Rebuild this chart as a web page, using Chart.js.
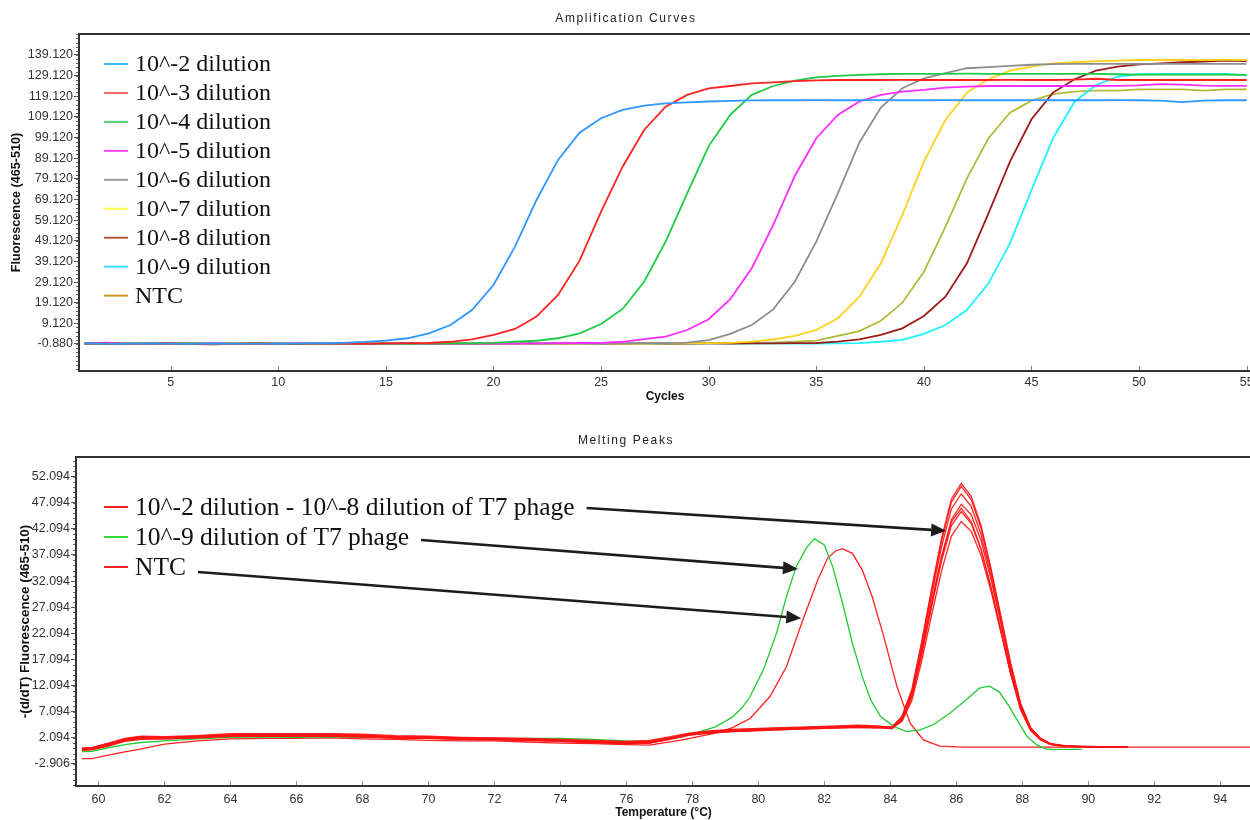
<!DOCTYPE html>
<html>
<head>
<meta charset="utf-8">
<title>Amplification Curves / Melting Peaks</title>
<script src="https://cdn.jsdelivr.net/npm/chart.js@4.4.1/dist/chart.umd.min.js"></script>
<style>
  html, body { margin: 0; padding: 0; background: #fff; }
  body { width: 1250px; height: 820px; overflow: hidden; position: relative; }
  .panel { position: absolute; left: 0; width: 1262px; height: 410px; }
  #ampPanel { top: 0; }
  #meltPanel { top: 410px; }
</style>
</head>
<body>
<div class="panel" id="ampPanel"><canvas id="ampChart" width="1262" height="410"></canvas></div>
<div class="panel" id="meltPanel"><canvas id="meltChart" width="1262" height="410"></canvas></div>
<script>
// ---------- Amplification curves data ----------
const ampCycles = [1, 2, 3, 4, 5, 6, 7, 8, 9, 10, 11, 12, 13, 14, 15, 16, 17, 18, 19, 20,
  21, 22, 23, 24, 25, 26, 27, 28, 29, 30, 31, 32, 33, 34, 35, 36, 37, 38, 39, 40,
  41, 42, 43, 44, 45, 46, 47, 48, 49, 50, 51, 52, 53, 54, 55];
const ampLabels = ['10^-2 dilution', '10^-3 dilution', '10^-4 dilution', '10^-5 dilution',
  '10^-6 dilution', '10^-7 dilution', '10^-8 dilution', '10^-9 dilution', 'NTC'];

const ampD2 = [-0.6, -0.7, -0.8, -0.6, -0.7, -0.8, -0.6, -0.7, -0.7, -0.8, -0.6, -0.5,
  -0.3, 0.1, 0.8, 1.9, 4.3, 8.3, 15.6, 27.7, 46.3, 68.9,
  88.3, 101.5, 108.5, 112.5, 114.6, 115.7, 116.2, 116.6, 116.9, 117.1,
  117.2, 117.2, 117.3, 117.2, 117.2, 117.3, 117.2, 117.2, 117.3, 117.2,
  117.2, 117.2, 117.3, 117.2, 117.2, 117.2, 117.3, 117.2, 117.0, 116.3,
  117.0, 117.2, 117.2];
const ampD3 = [-0.7, -0.6, -0.8, -0.7, -0.6, -0.8, -0.7, -0.7, -0.6, -0.8,
  -0.7, -0.6, -0.7, -0.8, -0.6, -0.5, -0.4, 0.2, 1.4, 3.5,
  6.4, 12.4, 22.9, 39.5, 63.2, 85.0, 102.8, 114.1, 119.8, 123.0,
  124.1, 125.4, 125.9, 126.5, 126.8, 127.0, 127.0, 127.0, 127.1, 127.0,
  127.0, 127.0, 127.0, 127.1, 127.0, 127.0, 127.2, 127.6, 127.0, 127.0,
  127.0, 127.0, 127.0, 127.0, 127.0];
const ampD4 = [-0.7, -0.8, -0.6, -0.7, -0.7, -0.6, -0.8, -0.7, -0.6, -0.7,
  -0.8, -0.6, -0.7, -0.7, -0.6, -0.8, -0.7, -0.6, -0.5, -0.3,
  0.2, 0.7, 1.9, 4.3, 8.8, 16.1, 29.3, 48.7, 72.1, 95.0,
  110.1, 119.8, 124.1, 126.7, 128.3, 129.0, 129.5, 129.8, 130.0, 130.0,
  130.0, 130.1, 130.0, 130.0, 130.0, 130.0, 130.0, 130.0, 129.8, 129.6,
  129.6, 129.6, 129.6, 129.6, 129.5];
const ampD5 = [-0.6, -0.2, -0.6, -0.8, -0.7, -0.7, -0.6, -0.8, -0.7, -0.7,
  -0.6, -0.8, -0.7, -0.7, -0.6, -0.7, -0.8, -0.7, -0.6, -0.7,
  -0.7, -0.6, -0.5, -0.4, -0.3, 0.2, 1.5, 2.7, 5.9, 11.1,
  20.8, 35.8, 56.8, 80.5, 98.8, 110.1, 116.6, 119.8, 121.4, 122.2,
  123.3, 123.8, 124.1, 124.1, 124.1, 124.1, 124.1, 124.2, 124.2, 124.4,
  125.0, 124.8, 124.3, 124.2, 124.2];
const ampD6 = [-0.7, -0.7, -0.6, -0.8, -0.7, -0.6, -0.7, -0.8, -0.6, -0.7,
  -0.7, -0.6, -0.7, -0.8, -0.6, -0.7, -0.7, -0.6, -0.8, -0.7,
  -0.6, -0.7, -0.7, -0.6, -0.7, -0.6, -0.5, -0.4, -0.2, 1.0,
  4.0, 8.3, 15.9, 29.3, 48.7, 72.1, 96.6, 113.7, 123.0, 127.8,
  130.3, 132.7, 133.2, 133.8, 134.4, 134.7, 134.8, 134.8, 134.8, 134.8,
  134.8, 134.8, 134.8, 134.8, 134.8];
const ampD7 = [-0.7, -0.6, -0.7, -0.7, -0.8, -0.6, -0.7, -0.6, -0.7, -0.8,
  -0.6, -0.7, -0.7, -0.6, -0.7, -0.8, -0.7, -0.6, -0.7, -0.7,
  -0.6, -0.7, -0.8, -0.7, -0.6, -0.7, -0.7, -0.6, -0.6, -0.5,
  -0.3, 0.3, 1.3, 3.0, 5.9, 11.6, 22.0, 38.2, 61.6, 87.5,
  107.6, 120.9, 127.4, 131.5, 133.5, 135.1, 135.6, 136.1, 136.4, 136.7,
  136.7, 136.7, 136.7, 136.8, 136.7];
const ampD8 = [-0.7, -0.7, -0.8, -0.6, -0.7, -0.9, -1.0, -0.8, -0.7, -0.7,
  -0.8, -0.7, -0.6, -0.7, -0.7, -0.6, -0.7, -0.7, -0.8, -0.7,
  -0.6, -0.7, -0.7, -0.6, -0.7, -0.7, -0.6, -0.7, -0.7, -0.6,
  -0.7, -0.6, -0.6, -0.5, -0.4, 0.3, 1.4, 3.5, 6.7, 12.7,
  22.0, 38.2, 62.4, 87.5, 108.0, 120.9, 127.4, 131.5, 133.5, 134.6,
  135.1, 135.6, 135.9, 136.4, 136.2];
const ampD9 = [-0.7, -0.6, -0.7, -0.5, -0.6, -0.7, -0.6, -0.7, -0.7, -0.6,
  -0.7, -0.7, -0.6, -0.7, -0.7, -0.6, -0.7, -0.7, -0.6, -0.7,
  -0.7, -0.6, -0.7, -0.7, -0.7, -0.6, -0.7, -0.7, -0.7, -0.6,
  -0.7, -0.7, -0.6, -0.7, -0.7, -0.6, -0.5, 0.2, 1.1, 4.0,
  8.3, 15.6, 28.5, 47.9, 73.7, 98.8, 116.5, 124.6, 128.6, 129.8,
  130.0, 130.0, 130.0, 130.0, 129.2];
const ampNtc = [-0.6, -0.7, -0.7, -0.6, -0.7, -0.7, -0.6, -0.7, -0.6, -0.7,
  -0.6, -0.7, -0.5, -0.6, -0.7, -0.6, -0.7, -0.6, -0.7, -0.6,
  -0.7, -0.7, -0.6, -0.7, -0.6, -0.7, -0.6, -0.7, -0.6, -0.6,
  -0.5, -0.4, -0.2, 0.2, 0.8, 3.0, 5.4, 10.4, 19.1, 34.1,
  55.9, 79.4, 98.8, 111.2, 117.0, 120.2, 121.4, 121.9, 121.9, 122.5,
  122.5, 122.5, 121.9, 122.5, 122.5];

const ampYTicks = [-0.88, 9.12, 19.12, 29.12, 39.12, 49.12, 59.12, 69.12, 79.12,
  89.12, 99.12, 109.12, 119.12, 129.12, 139.12];
const ampXTicks = [5, 10, 15, 20, 25, 30, 35, 40, 45, 50, 55];

// ---------- Melting peaks data ----------
const meltDilTemps = [59.5, 59.8, 60.3, 60.8, 61.3, 62, 63, 64, 65, 66, 67, 68, 69, 70, 71,
  72, 73, 74, 75, 76, 76.7, 77.3, 77.9, 78.5, 79.2, 80, 81, 82, 83, 83.6,
  84.05, 84.35, 84.65, 84.95, 85.25, 85.55, 85.85, 86.15, 86.45, 86.75, 87.05,
  87.35, 87.65, 87.95, 88.25, 88.55, 88.85, 89.3, 89.8, 90.4, 91.2];
const meltDil1 = [0.1, 0.2, 1.1, 2.0, 2.4, 2.3, 2.5, 2.9, 2.9, 2.9, 2.9, 2.8, 2.5, 2.4, 2.2,
  2.1, 2.0, 1.8, 1.6, 1.4, 1.6, 2.3, 3.0, 3.4, 3.7, 3.9, 4.1, 4.3, 4.5, 4.4,
  4.1, 6.2, 11.3, 20.5, 30.6, 40.2, 47.8, 50.8, 48.3, 42.7, 34.5,
  25.4, 16.3, 8.6, 4.1, 2.0, 1.0, 0.6, 0.5, 0.4, 0.4];
const meltDil2 = [-0.1, 0.0, 0.9, 1.8, 2.2, 2.2, 2.4, 2.7, 2.7, 2.7, 2.7, 2.6, 2.3, 2.3, 2.1,
  2.0, 1.9, 1.7, 1.5, 1.3, 1.4, 2.1, 2.9, 3.3, 3.6, 3.8, 4.0, 4.2, 4.4, 4.3,
  4.0, 6.1, 11.0, 20.1, 30.1, 39.7, 47.2, 50.2, 47.7, 42.2, 34.1,
  25.1, 16.1, 8.5, 4.0, 2.0, 1.0, 0.5, 0.4, 0.4, 0.3];
const meltDil3 = [0.0, 0.1, 0.8, 1.7, 2.1, 2.1, 2.3, 2.6, 2.6, 2.6, 2.6, 2.5, 2.2, 2.2, 2.0,
  1.9, 1.8, 1.6, 1.4, 1.2, 1.3, 2.0, 2.8, 3.2, 3.5, 3.7, 3.9, 4.1, 4.3, 4.2,
  4.2, 6.0, 10.7, 19.5, 29.3, 38.6, 45.9, 48.8, 46.4, 41.0, 33.2,
  24.4, 15.6, 8.3, 3.9, 1.9, 0.9, 0.5, 0.4, 0.3, 0.3];
const meltDil4 = [-0.2, -0.1, 0.6, 1.5, 2.0, 2.0, 2.2, 2.5, 2.5, 2.5, 2.5, 2.4, 2.1, 2.1, 1.9,
  1.8, 1.7, 1.5, 1.3, 1.1, 1.2, 1.9, 2.7, 3.1, 3.4, 3.6, 3.8, 4.0, 4.2, 4.1,
  3.9, 5.5, 9.8, 18.0, 27.5, 36.6, 43.8, 46.8, 44.8, 39.8, 32.4,
  24.0, 15.5, 8.3, 3.9, 2.0, 0.9, 0.5, 0.4, 0.4, 0.3];
const meltDil5 = [-0.1, 0.0, 0.7, 1.6, 1.9, 1.9, 2.1, 2.4, 2.4, 2.4, 2.4, 2.3, 2.0, 2.0, 1.8,
  1.7, 1.6, 1.4, 1.2, 1.0, 1.1, 1.8, 2.6, 3.0, 3.3, 3.5, 3.7, 3.9, 4.1, 4.0,
  4.1, 5.9, 10.5, 18.9, 28.1, 36.7, 43.4, 46.0, 43.5, 38.2, 30.8,
  22.5, 14.2, 7.4, 3.5, 1.7, 0.9, 0.5, 0.4, 0.3, 0.3];
const meltDil6 = [0.1, 0.2, 1.0, 1.9, 2.3, 2.2, 2.4, 2.7, 2.8, 2.8, 2.8, 2.6, 2.3, 2.2, 2.0,
  1.9, 1.8, 1.6, 1.3, 1.1, 1.2, 2.0, 2.8, 3.2, 3.5, 3.7, 3.9, 4.1, 4.3, 4.2,
  3.8, 5.6, 10.0, 18.2, 27.2, 35.9, 42.7, 45.4, 43.1, 38.1, 30.9,
  22.7, 14.5, 7.7, 3.6, 1.8, 0.9, 0.5, 0.4, 0.4, 0.3];
const meltDil7 = [-0.3, -0.2, 0.5, 1.4, 1.8, 1.9, 2.1, 2.4, 2.4, 2.4, 2.4, 2.3, 2.1, 2.0, 1.8,
  1.7, 1.6, 1.4, 1.2, 1.0, 1.1, 1.8, 2.6, 3.0, 3.3, 3.5, 3.7, 3.9, 4.1, 4.0,
  4.0, 5.2, 9.2, 16.8, 25.6, 34.0, 40.7, 43.5, 41.6, 37.0, 30.2,
  22.3, 14.3, 7.6, 3.6, 1.8, 0.8, 0.4, 0.4, 0.3, 0.3];

const meltGreenTemps = [59.5, 59.8, 60.3, 60.8, 61.3, 62, 63, 64, 65, 66, 67, 68, 69, 70, 71,
  72, 73, 74, 75, 76, 76.7, 77.7, 78.7, 79.2, 79.5, 79.75, 80.15, 80.55, 80.85, 81.15,
  81.45, 81.7, 82.0, 82.25, 82.55, 82.85, 83.15, 83.4, 83.7, 84.1, 84.5, 84.9, 85.3,
  85.8, 86.3, 86.7, 87.0, 87.3, 87.6, 87.9, 88.15, 88.45, 88.75, 89.3, 89.8];
const meltGreen = [-0.55, -0.5, 0.2, 0.8, 1.2, 1.5, 1.9, 2.2, 2.3, 2.2, 2.3, 2.2, 2.2, 2.1, 2.1,
  2.0, 2.0, 2.0, 1.8, 1.5, 1.4, 2.3, 4.2, 6.0, 7.8, 10.0, 15.1, 22.1, 29.1, 34.9,
  38.4, 40.2, 39.0, 34.9, 27.9, 20.2, 13.8, 9.4, 6.2, 4.3, 3.3, 3.6, 4.6,
  6.8, 9.4, 11.6, 12.0, 10.9, 8.1, 4.9, 2.3, 0.7, -0.1, -0.1, -0.1];

const meltNtcTemps = [59.5, 59.8, 60.3, 60.8, 61.3, 62, 63, 64, 65, 66, 67, 68, 69, 70, 71,
  72, 73, 74, 75, 76, 76.7, 77.7, 78.7, 79.2, 79.75, 80.35, 80.85, 81.35, 81.8, 82.1,
  82.35, 82.55, 82.85, 83.15, 83.45, 83.8, 84.2, 84.6, 85.0, 85.5, 86.2, 88, 90, 92, 95];
const meltNtc = [-1.9, -1.9, -1.2, -0.6, 0.0, 0.9, 1.5, 1.9, 2.0, 2.0, 2.1, 1.9, 1.8, 1.6, 1.5,
  1.5, 1.3, 1.1, 1.0, 0.8, 0.7, 1.7, 3.0, 4.0, 5.8, 10.0, 15.7, 24.7, 32.3, 36.5,
  37.9, 38.3, 37.4, 34.2, 29.1, 21.5, 11.9, 4.9, 1.7, 0.5, 0.3, 0.3, 0.3, 0.3, 0.3];

const meltYTicks = [-2.906, 2.094, 7.094, 12.094, 17.094, 22.094, 27.094, 32.094,
  37.094, 42.094, 47.094, 52.094];
const meltXTicks = [60, 62, 64, 66, 68, 70, 72, 74, 76, 78, 80, 82, 84, 86, 88, 90, 92, 94];
const meltLegendLabels = ['10^-2 dilution - 10^-8 dilution of T7 phage',
  '10^-9 dilution of T7 phage', 'NTC'];
// arrow tips, in (temperature, value)
const meltArrowTips = [[85.69, 41.7], [81.2, 34.4], [81.3, 25.0]];

document.addEventListener('DOMContentLoaded', function () {
  const sans = '"Liberation Sans", Arial, sans-serif';
  const serif = '"Liberation Serif", "Times New Roman", serif';

  const ampColors = ['#2f97ff', '#ff2222', '#1ecb45', '#ff2bff', '#8e8e8e', '#ffd11a', '#9c1b1b', '#1ff2ff', '#b4b93a'];
  const ampLegendColors = ['#3cbcff', '#ff6a6a', '#55cc77', '#ff44ff', '#9a9a9a', '#ffff44', '#b4583a', '#40dcff', '#c8961e'];
  const ampSeries = [ampD2, ampD3, ampD4, ampD5, ampD6, ampD7, ampD8, ampD9, ampNtc];

  function drawArrow(ctx, x0, y0, x1, y1) {
    const ang = Math.atan2(y1 - y0, x1 - x0);
    const head = 15, half = 6.5;
    const bx = x1 - head * Math.cos(ang), by = y1 - head * Math.sin(ang);
    ctx.beginPath(); ctx.moveTo(x0, y0); ctx.lineTo(bx, by); ctx.stroke();
    ctx.beginPath();
    ctx.moveTo(x1, y1);
    ctx.lineTo(bx + half * Math.sin(ang), by - half * Math.cos(ang));
    ctx.lineTo(bx - half * Math.sin(ang), by + half * Math.cos(ang));
    ctx.closePath(); ctx.fill();
  }

  // frame, minor ticks, title and hand-placed legend for one panel
  function makeDecor(cfg) {
    return {
      id: 'decor',
      afterDraw(chart) {
        const ctx = chart.ctx;
        const a = chart.chartArea;
        const xs = chart.scales.x, ys = chart.scales.y;
        ctx.save();

        // minor ticks on the y axis
        ctx.strokeStyle = '#666';
        ctx.lineWidth = 1;
        const first = ys.ticks[0].value;
        let v = first - Math.floor((first - ys.min) / cfg.minorStep) * cfg.minorStep;
        for (; v <= ys.max; v += cfg.minorStep) {
          const py = Math.round(ys.getPixelForValue(v)) + 0.5;
          ctx.beginPath(); ctx.moveTo(a.left - 3, py); ctx.lineTo(a.left, py); ctx.stroke();
        }
        // x ticks pointing into the plot
        ctx.strokeStyle = '#888';
        xs.ticks.forEach(t => {
          const px = Math.round(xs.getPixelForValue(t.value)) + 0.5;
          ctx.beginPath(); ctx.moveTo(px, a.bottom + 1); ctx.lineTo(px, a.bottom - 5); ctx.stroke();
        });

        // plot frame
        ctx.strokeStyle = '#333';
        ctx.lineWidth = 2;
        ctx.strokeRect(a.left, a.top, a.right - a.left, a.bottom - a.top);

        // panel title
        ctx.fillStyle = '#222';
        ctx.font = '12px ' + sans;
        ctx.letterSpacing = '1.6px';
        ctx.textAlign = 'center';
        ctx.textBaseline = 'middle';
        ctx.fillText(cfg.title, cfg.titleX, cfg.titleY);
        ctx.letterSpacing = '0px';

        // legend
        ctx.font = cfg.legendFont;
        ctx.textAlign = 'left';
        ctx.textBaseline = 'alphabetic';
        const ends = [];
        cfg.legendLabels.forEach((label, i) => {
          const ly = cfg.legendY + i * cfg.legendStep;
          ctx.strokeStyle = cfg.legendColors[i];
          ctx.lineWidth = 2;
          ctx.beginPath(); ctx.moveTo(104, ly); ctx.lineTo(128, ly); ctx.stroke();
          ctx.fillStyle = '#111';
          ctx.fillText(label, 135, ly + cfg.baselineShift);
          ends.push([135 + ctx.measureText(label).width, ly]);
        });

        // arrows from legend text to the curves
        if (cfg.arrowTips) {
          ctx.strokeStyle = '#1c1c1c';
          ctx.fillStyle = '#1c1c1c';
          ctx.lineWidth = 2.6;
          cfg.arrowTips.forEach((tip, i) => {
            const [ex, ey] = ends[i];
            drawArrow(ctx, ex + 12, ey + 1 + i * 2, xs.getPixelForValue(tip[0]), ys.getPixelForValue(tip[1]));
          });
        }
        ctx.restore();
      }
    };
  }

  const tickFont = { family: sans, size: 12.5 };
  const xTitleFont = { family: sans, size: 12, weight: 'bold' };

  // ---------- top panel ----------
  new Chart(document.getElementById('ampChart').getContext('2d'), {
    type: 'line',
    data: {
      datasets: ampSeries.map((s, i) => ({
        label: ampLabels[i],
        data: ampCycles.map((c, j) => ({ x: c, y: s[j] })),
        borderColor: ampColors[i],
        borderWidth: 1.8,
        pointRadius: 0,
        tension: 0,
        fill: false
      }))
    },
    options: {
      responsive: false,
      animation: false,
      layout: { padding: { top: 34, left: 0, right: 11, bottom: 0 } },
      plugins: { legend: { display: false }, tooltip: { enabled: false }, title: { display: false } },
      scales: {
        x: {
          type: 'linear', min: 0.74, max: 55.2,
          afterBuildTicks: s => { s.ticks = ampXTicks.map(v => ({ value: v })); },
          afterFit: s => { s.height = 39; },
          grid: { display: false, drawTicks: false },
          border: { display: false },
          ticks: { color: '#333', font: tickFont, padding: 4, autoSkip: false, maxRotation: 0 },
          title: { display: true, text: 'Cycles', color: '#111', font: xTitleFont, padding: { top: 0, bottom: 6 } }
        },
        y: {
          type: 'linear', min: -13.96, max: 149.29,
          afterBuildTicks: s => { s.ticks = ampYTicks.map(v => ({ value: v })); },
          afterFit: s => { s.width = 79; },
          grid: { display: true, drawOnChartArea: false, drawTicks: true, tickLength: 5, color: '#555' },
          border: { display: false },
          ticks: { color: '#333', font: tickFont, padding: 1, autoSkip: false, callback: v => v.toFixed(3) },
          title: { display: true, text: 'Fluorescence (465-510)', color: '#111',
            font: { family: sans, size: 12.6, weight: 'bold' }, padding: { top: 9, bottom: 0 } }
        }
      }
    },
    plugins: [makeDecor({
      minorStep: 2, title: 'Amplification Curves', titleX: 626, titleY: 19,
      legendLabels: ampLabels, legendColors: ampLegendColors,
      legendFont: '24px ' + serif, legendY: 64, legendStep: 28.95, baselineShift: 7
    })]
  });

  // ---------- bottom panel ----------
  const dilSeries = [meltDil1, meltDil2, meltDil3, meltDil4, meltDil5, meltDil6, meltDil7];
  const meltDatasets = dilSeries.map((s, i) => ({
    label: '10^-' + (i + 2) + ' dilution',
    data: meltDilTemps.map((t, j) => ({ x: t, y: s[j] })),
    borderColor: 'rgba(255, 20, 20, 0.92)'
  }));
  meltDatasets.push({
    label: meltLegendLabels[1],
    data: meltGreenTemps.map((t, j) => ({ x: t, y: meltGreen[j] })),
    borderColor: '#22cc33'
  });
  meltDatasets.push({
    label: meltLegendLabels[2],
    data: meltNtcTemps.map((t, j) => ({ x: t, y: meltNtc[j] })),
    borderColor: '#ff2020'
  });
  meltDatasets.forEach(d => { d.borderWidth = 1.3; d.pointRadius = 0; d.tension = 0; d.fill = false; });

  new Chart(document.getElementById('meltChart').getContext('2d'), {
    type: 'line',
    data: { datasets: meltDatasets },
    options: {
      responsive: false,
      animation: false,
      layout: { padding: { top: 47, left: 0, right: 11, bottom: 0 } },
      plugins: { legend: { display: false }, tooltip: { enabled: false }, title: { display: false } },
      scales: {
        x: {
          type: 'linear', min: 59.32, max: 94.93,
          afterBuildTicks: s => { s.ticks = meltXTicks.map(v => ({ value: v })); },
          afterFit: s => { s.height = 34; },
          grid: { display: false, drawTicks: false },
          border: { display: false },
          ticks: { color: '#333', font: tickFont, padding: 6, autoSkip: false, maxRotation: 0 },
          title: { display: true, text: 'Temperature (°C)', color: '#111', font: xTitleFont, padding: { top: 0, bottom: 0 } }
        },
        y: {
          type: 'linear', min: -7.12, max: 55.83,
          afterBuildTicks: s => { s.ticks = meltYTicks.map(v => ({ value: v })); },
          afterFit: s => { s.width = 76; },
          grid: { display: true, drawOnChartArea: false, drawTicks: true, tickLength: 5, color: '#555' },
          border: { display: false },
          ticks: { color: '#333', font: tickFont, padding: 1, autoSkip: false, callback: v => v.toFixed(3) },
          title: { display: true, text: '-(d/dT) Fluorescence (465-510)', color: '#111',
            font: { family: sans, size: 13.4, weight: 'bold' }, padding: { top: 17, bottom: 0 } }
        }
      }
    },
    plugins: [makeDecor({
      minorStep: 1, title: 'Melting Peaks', titleX: 626, titleY: 31,
      legendLabels: meltLegendLabels, legendColors: ['#ff2020', '#33dd33', '#ff2020'],
      legendFont: '25.5px ' + serif, legendY: 97, legendStep: 30, baselineShift: 8,
      arrowTips: meltArrowTips
    })]
  });
});
</script>
</body>
</html>
